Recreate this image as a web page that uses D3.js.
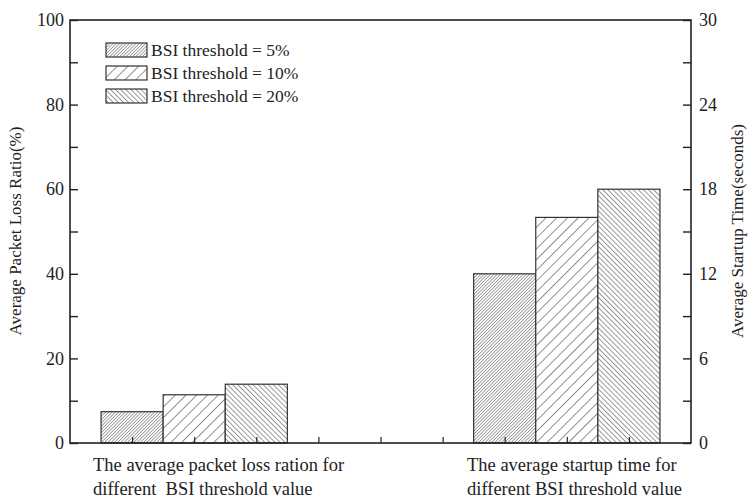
<!DOCTYPE html>
<html>
  <head>
    <meta charset="UTF-8" />
    <style>
      body {
        margin: 0;
        background: #fff;
      }
      svg text {
        font-family: "Liberation Serif", "Times New Roman", serif;
        fill: #222;
      }
    </style>
  </head>
  <body>
    <svg></svg>
    <script src="https://d3js.org/d3.v7.min.js"></script>
    <script>
      let width = 755,
        height = 499;
      const serif = "Liberation Serif, Times New Roman, serif";

      // data
      const series = ["BSI threshold = 5%", "BSI threshold = 10%", "BSI threshold = 20%"];
      const lossRatio = [7.4, 11.4, 13.9]; // left axis, %
      const startupTime = [12.0, 16.0, 18.0]; // right axis, seconds
      const groupLabels = [
        ["The average packet loss ration for", "different  BSI threshold value"],
        ["The average startup time for", "different BSI threshold value"],
      ];
      const groupCenters = [2, 8];
      const leftTicks = [0, 20, 40, 60, 80, 100];
      const rightTicks = [0, 6, 12, 18, 24, 30];

      let svg = d3.select("svg").attr("width", width).attr("height", height);

      let x = d3.scaleLinear().domain([0, 10]).range([70, 691]);
      let yL = d3.scaleLinear().domain([0, 100]).range([443, 20]);
      let yR = d3.scaleLinear().domain([0, 30]).range([443, 20]);

      // hatch patterns
      let defs = svg.append("defs");
      const patterns = [
        { id: "h5", size: 2.3, dir: 1, sw: 0.8 },
        { id: "h10", size: 7.6, dir: 1, sw: 1 },
        { id: "h20", size: 3.6, dir: -1, sw: 0.9 },
      ];
      patterns.forEach((p) => {
        let pat = defs
          .append("pattern")
          .attr("id", p.id)
          .attr("patternUnits", "userSpaceOnUse")
          .attr("width", p.size)
          .attr("height", p.size)
          .attr("patternTransform", "rotate(" + 45 * p.dir + ")");
        pat.append("rect").attr("width", p.size).attr("height", p.size).attr("fill", "#fff");
        pat
          .append("line")
          .attr("x1", 0)
          .attr("y1", 0)
          .attr("x2", 0)
          .attr("y2", p.size)
          .attr("stroke", "#222")
          .attr("stroke-width", p.sw);
      });

      // bars
      let bars = svg.append("g");
      [lossRatio, startupTime].forEach((vals, gi) => {
        let yScale = gi == 0 ? yL : yR;
        bars
          .selectAll(".g" + gi)
          .data(vals)
          .enter()
          .append("rect")
          .attr("x", (d, i) => x(groupCenters[gi] + i - 1.5))
          .attr("width", x(1) - x(0))
          .attr("y", (d) => yScale(d))
          .attr("height", (d) => yScale(0) - yScale(d))
          .attr("fill", (d, i) => "url(#" + patterns[i].id + ")")
          .attr("stroke", "#333")
          .attr("stroke-width", 1.2);
      });

      // frame
      svg
        .append("rect")
        .attr("x", x(0))
        .attr("y", yL(100))
        .attr("width", x(10) - x(0))
        .attr("height", yL(0) - yL(100))
        .attr("fill", "none")
        .attr("stroke", "#222")
        .attr("stroke-width", 1.6);

      // left axis
      let gl = svg
        .append("g")
        .attr("transform", "translate(" + x(0) + ",0)")
        .call(
          d3.axisLeft(yL)
            .tickValues(d3.range(0, 101, 10))
            .tickSize(-8)
            .tickPadding(6)
            .tickFormat((d) => (leftTicks.includes(d) ? d : ""))
        )
        .attr("font-family", serif)
        .attr("font-size", 18);
      gl.select(".domain").remove();
      gl.selectAll("line").attr("stroke", "#222").attr("stroke-width", 1.4);
      gl.selectAll("text").attr("fill", "#222");

      // right axis
      let gr = svg
        .append("g")
        .attr("transform", "translate(" + x(10) + ",0)")
        .call(
          d3.axisRight(yR)
            .tickValues(d3.range(0, 31, 3))
            .tickSize(-8)
            .tickPadding(8)
            .tickFormat((d) => (rightTicks.includes(d) ? d : ""))
        )
        .attr("font-family", serif)
        .attr("font-size", 18);
      gr.select(".domain").remove();
      gr.selectAll("line").attr("stroke", "#222").attr("stroke-width", 1.4);
      gr.selectAll("text").attr("fill", "#222");

      // bottom ticks
      let gb = svg
        .append("g")
        .attr("transform", "translate(0," + yL(0) + ")")
        .call(d3.axisBottom(x).tickValues(d3.range(1, 10)).tickSize(-6).tickFormat(""));
      gb.select(".domain").remove();
      gb.selectAll("line").attr("stroke", "#222").attr("stroke-width", 1.2);

      // axis titles
      svg
        .append("text")
        .attr("transform", "translate(21," + 231 + ") rotate(-90)")
        .attr("text-anchor", "middle")
        .style("font-size", "17px")
        .text("Average Packet Loss Ratio(%)");
      svg
        .append("text")
        .attr("transform", "translate(743," + 231 + ") rotate(-90)")
        .attr("text-anchor", "middle")
        .style("font-size", "17px")
        .text("Average Startup Time(seconds)");

      // group labels
      const labelX = [93, 467];
      groupLabels.forEach((lines, gi) => {
        lines.forEach((t, li) => {
          svg
            .append("text")
            .attr("x", labelX[gi])
            .attr("y", 471 + li * 24)
            .style("font-size", "18.5px")
            .attr("xml:space", "preserve")
            .style("white-space", "pre")
            .text(t);
        });
      });

      // legend
      let legend = svg.append("g");
      series.forEach((s, i) => {
        legend
          .append("rect")
          .attr("x", 106)
          .attr("y", 43 + i * 23)
          .attr("width", 41)
          .attr("height", 14)
          .attr("fill", "url(#" + patterns[i].id + ")")
          .attr("stroke", "#333")
          .attr("stroke-width", 1.2);
        legend
          .append("text")
          .attr("x", 151)
          .attr("y", 56 + i * 23)
          .style("font-size", "17.5px")
          .text(s);
      });
    </script>
  </body>
</html>
